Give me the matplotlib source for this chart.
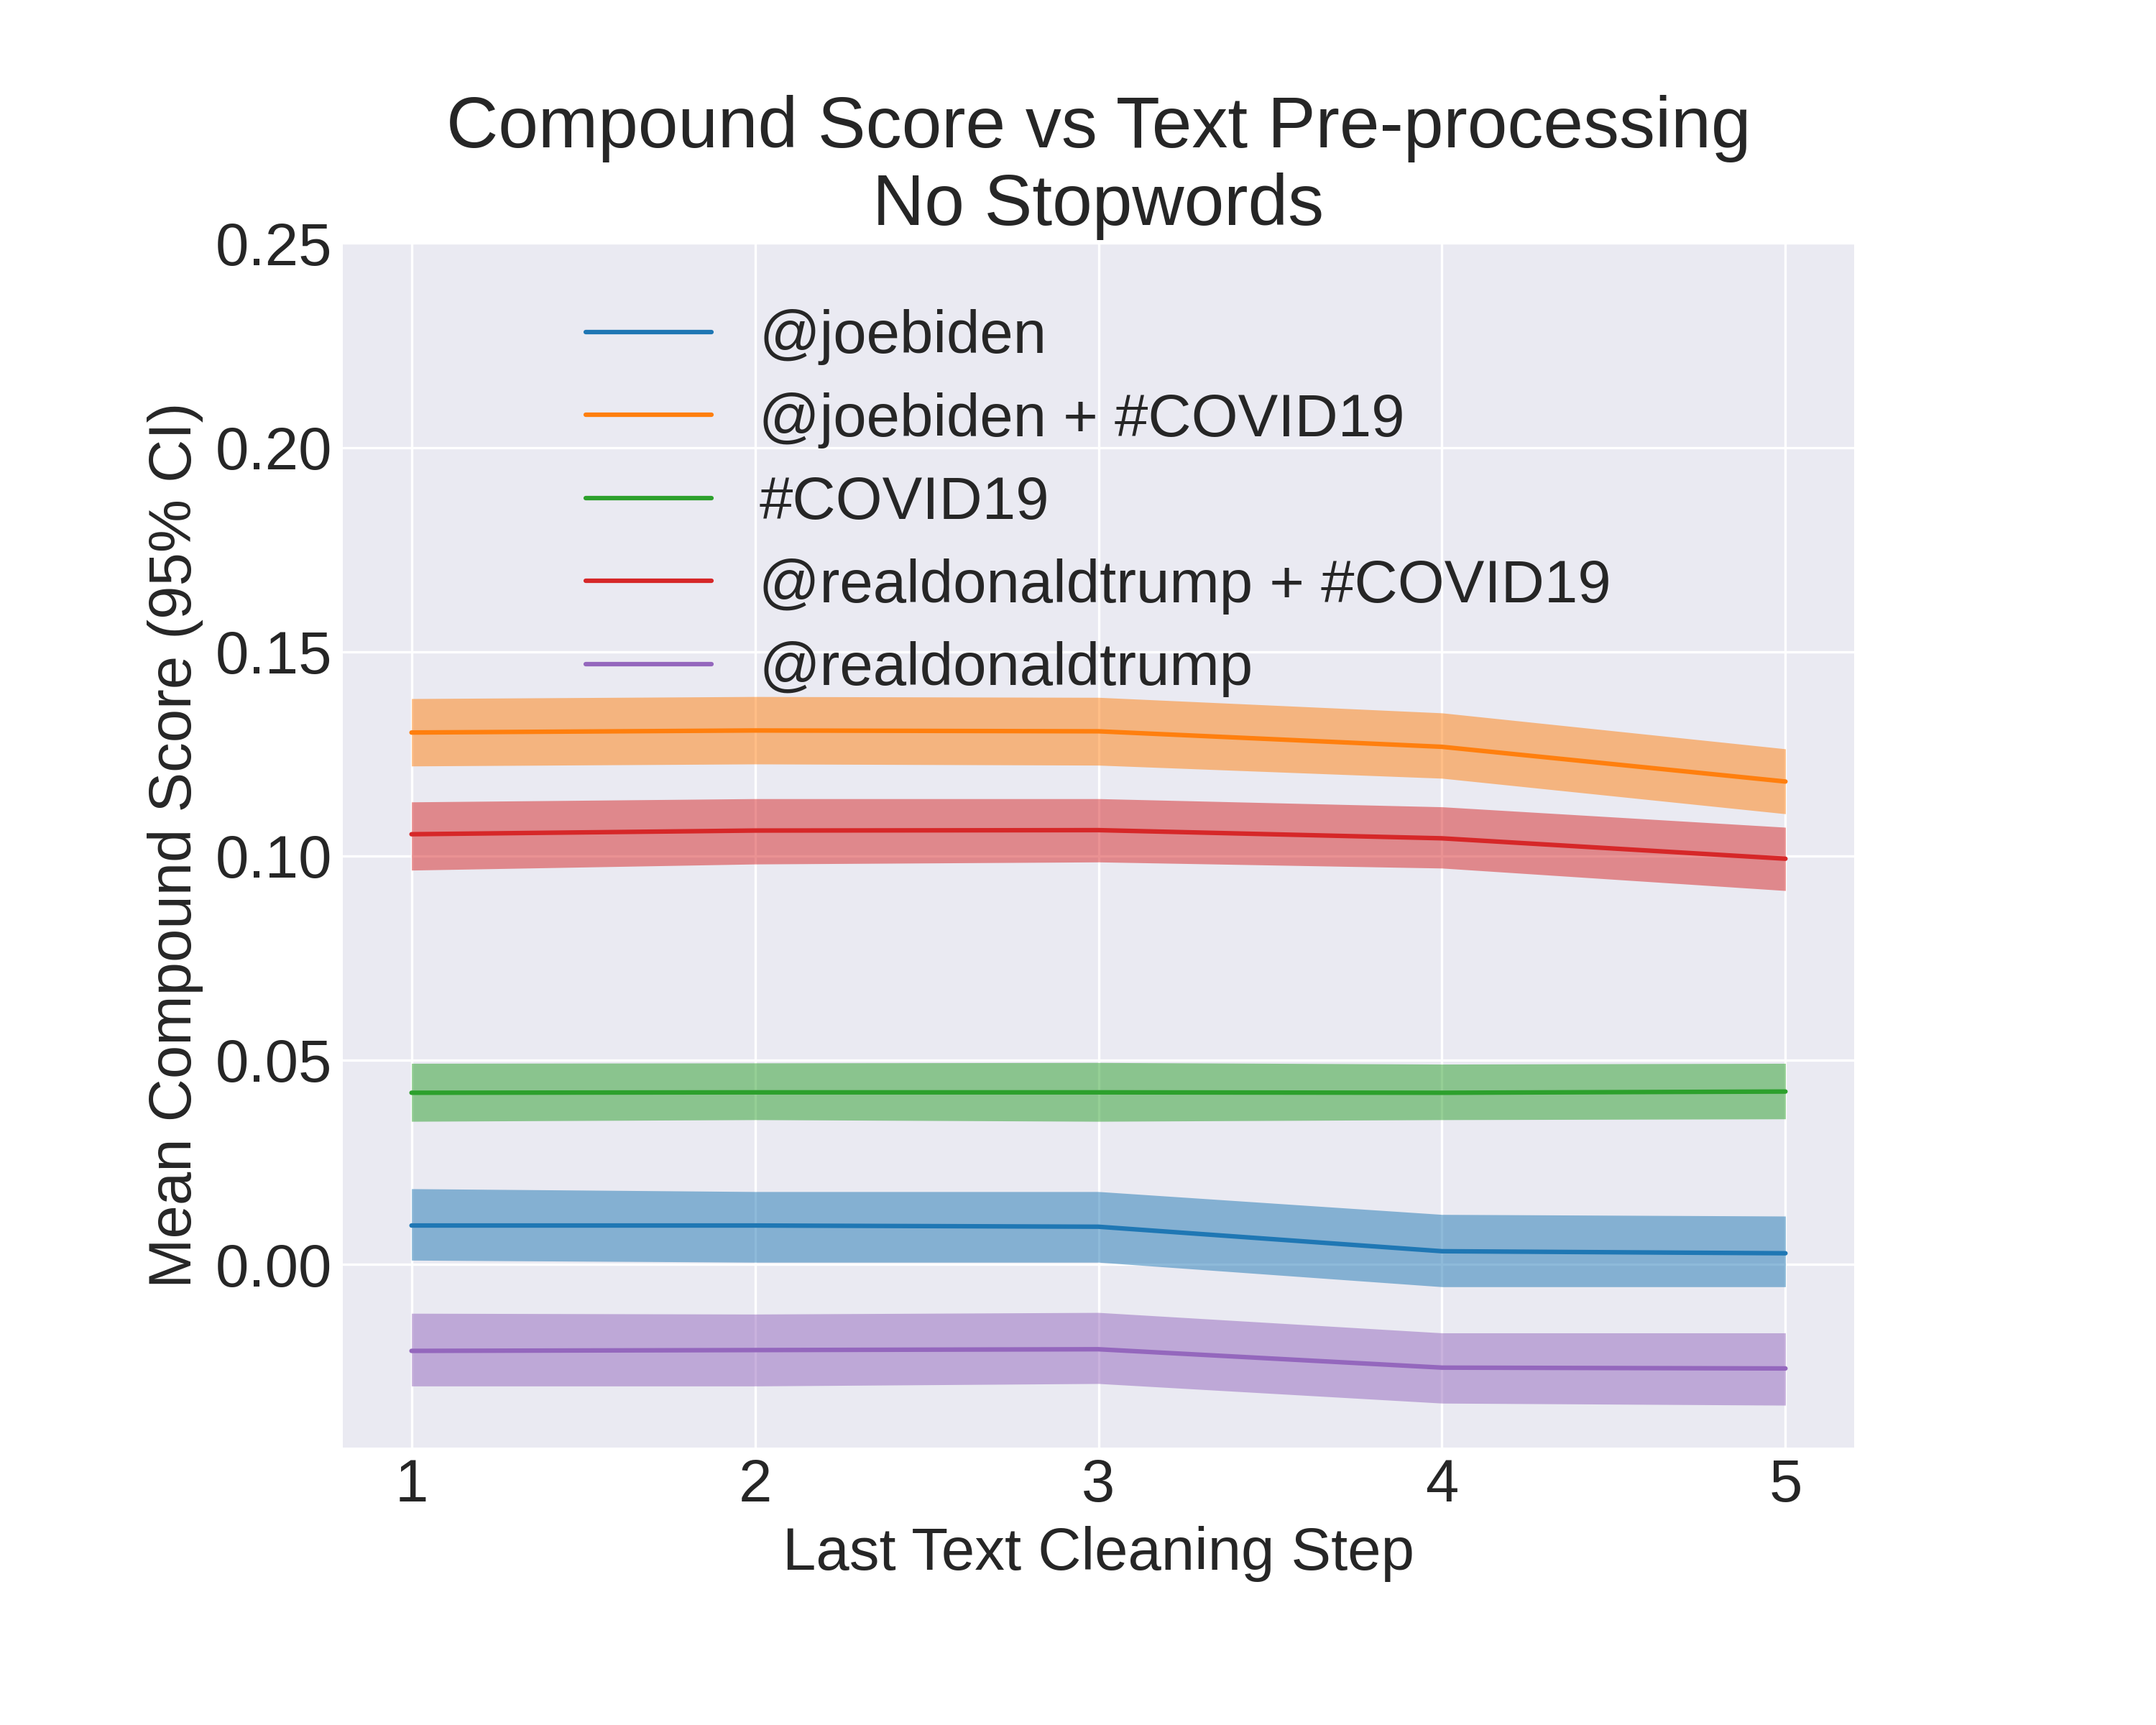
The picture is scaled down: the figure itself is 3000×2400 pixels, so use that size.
import matplotlib
matplotlib.use("Agg")
import matplotlib.pyplot as plt
import numpy as np

plt.style.use("seaborn-v0_8-darkgrid")
plt.rcParams['font.family'] = ['Liberation Sans', 'DejaVu Sans']

steps = [1, 2, 3, 4, 5]
labels = ["@joebiden", "@joebiden + #COVID19", "#COVID19",
          "@realdonaldtrump + #COVID19", "@realdonaldtrump"]
colors = ["#1f77b4", "#ff7f0e", "#2ca02c", "#d62728", "#9467bd"]

biden = [0.0095, 0.0095, 0.0092, 0.0032, 0.0027]
biden_lo = [0.0010, 0.0005, 0.0005, -0.0055, -0.0055]
biden_hi = [0.0185, 0.0178, 0.0178, 0.0122, 0.0118]

biden_covid = [0.1302, 0.1307, 0.1305, 0.1267, 0.1182]
biden_covid_lo = [0.1220, 0.1225, 0.1222, 0.1190, 0.1103]
biden_covid_hi = [0.1385, 0.1390, 0.1388, 0.1350, 0.1262]

covid = [0.0420, 0.0421, 0.0421, 0.0420, 0.0423]
covid_lo = [0.0350, 0.0354, 0.0350, 0.0354, 0.0356]
covid_hi = [0.0492, 0.0493, 0.0494, 0.0490, 0.0492]

trump_covid = [0.1053, 0.1062, 0.1063, 0.1043, 0.0993]
trump_covid_lo = [0.0965, 0.0980, 0.0985, 0.0970, 0.0915]
trump_covid_hi = [0.1132, 0.1140, 0.1140, 0.1120, 0.1070]

trump = [-0.0212, -0.0210, -0.0208, -0.0253, -0.0255]
trump_lo = [-0.0298, -0.0298, -0.0292, -0.0340, -0.0345]
trump_hi = [-0.0120, -0.0122, -0.0118, -0.0168, -0.0168]

series = [(biden, biden_lo, biden_hi), (biden_covid, biden_covid_lo, biden_covid_hi),
          (covid, covid_lo, covid_hi), (trump_covid, trump_covid_lo, trump_covid_hi),
          (trump, trump_lo, trump_hi)]

fig = plt.figure(figsize=(10, 8), dpi=300)
ax = fig.add_axes([0.159, 0.161, 0.701, 0.698])

for (m, lo, hi), lab, c in zip(series, labels, colors):
    ax.fill_between(steps, lo, hi, color=c, alpha=0.5, linewidth=0)
    ax.plot(steps, m, color=c, label=lab, linewidth=1.5)

ax.set_xlim(0.8, 5.2)
ax.set_ylim(-0.0448, 0.25)
ax.set_xticks(steps)
ax.set_yticks([0.0, 0.05, 0.10, 0.15, 0.20, 0.25])
ax.set_yticklabels(["0.00", "0.05", "0.10", "0.15", "0.20", "0.25"])
ax.tick_params(labelsize=20)
ax.set_xlabel("Last Text Cleaning Step", fontsize=20)
ax.set_ylabel("Mean Compound Score (95% CI)", fontsize=20)
ax.set_title("Compound Score vs Text Pre-processing\nNo Stopwords", fontsize=24)
ax.legend(loc="upper center", fontsize=20, frameon=False, handlelength=2.1,
          handletextpad=0.8, labelspacing=0.45, bbox_to_anchor=(0.5, 0.99))

fig.savefig("out.png", dpi=300)
